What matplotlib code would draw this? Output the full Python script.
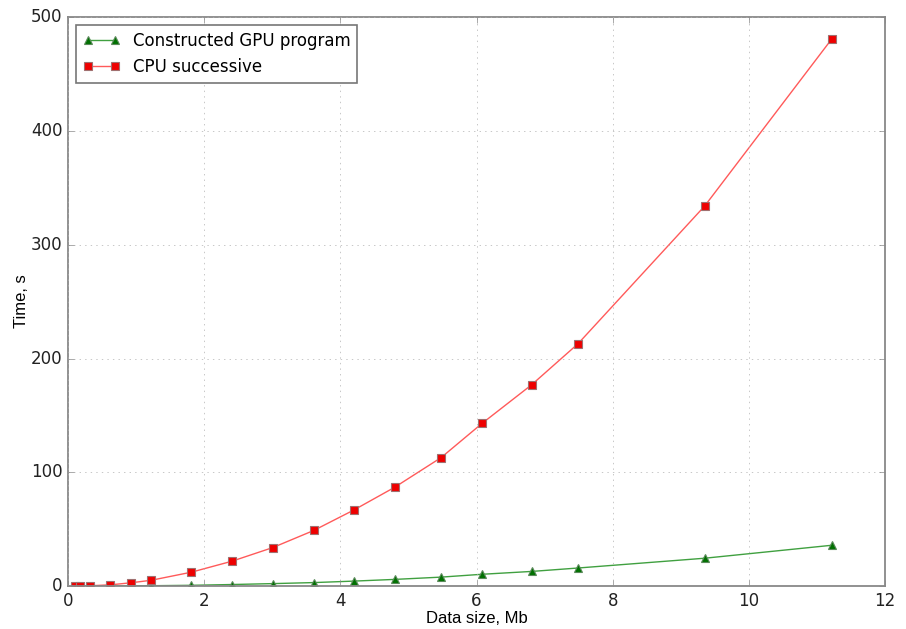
import numpy as np
import matplotlib
matplotlib.use("Agg")
import matplotlib.pyplot as plt

# data size, Mb
size_mb = [0.10, 0.18, 0.32, 0.62, 0.92, 1.22, 1.81, 2.41, 3.01, 3.61,
           4.20, 4.80, 5.48, 6.08, 6.81, 7.49, 9.35, 11.22]
# times, s
gpu_time = [0.05, 0.08, 0.12, 0.2, 0.3, 0.45, 0.8, 1.5, 2.3, 3.2,
            4.5, 6.0, 8.0, 10.5, 13.0, 16.0, 24.6, 36.0]
cpu_time = [0.1, 0.2, 0.4, 1.2, 3.0, 5.2, 12.3, 22.0, 34.0, 49.0,
            67.0, 87.0, 113.0, 143.0, 177.0, 213.0, 334.0, 481.0]

plt.style.use('classic')
fig = plt.figure(figsize=(9.06, 6.29), dpi=100)
fig.patch.set_facecolor('white')
ax = fig.add_axes([0.075, 0.068, 0.902, 0.905])

ax.plot(size_mb, gpu_time, '^-', color='#40a040', lw=1.0, ms=6,
        mfc='#007000', mec='#5a8a5a', mew=0.8,
        label='Constructed GPU program')
ax.plot(size_mb, cpu_time, 's-', color='#ff5a5a', lw=1.0, ms=6,
        mfc='#ee0000', mec='#a07070', mew=0.8,
        label='CPU successive')

ax.set_xlim(0, 12)
ax.set_ylim(0, 500)
ax.set_xticks(np.arange(0, 13, 2))
ax.set_yticks(np.arange(0, 501, 100))
ax.grid(True, color='#b0b0b0', linestyle=':')
ax.set_xlabel('Data size, Mb', fontsize=12, family='Liberation Sans', labelpad=1)
ax.set_ylabel('Time, s', fontsize=12, family='Liberation Sans', labelpad=1)
for s in ax.spines.values():
    s.set_color('#888888')
    s.set_linewidth(1.3)
ax.tick_params(labelsize=12, color='#888888', labelcolor='#222222')
leg = ax.legend(loc='upper left', fontsize=12, numpoints=2, handlelength=2.2)
leg.get_frame().set_edgecolor('#777777')
leg.get_frame().set_linewidth(1.2)

fig.savefig('out.png', dpi=100, facecolor='white')
